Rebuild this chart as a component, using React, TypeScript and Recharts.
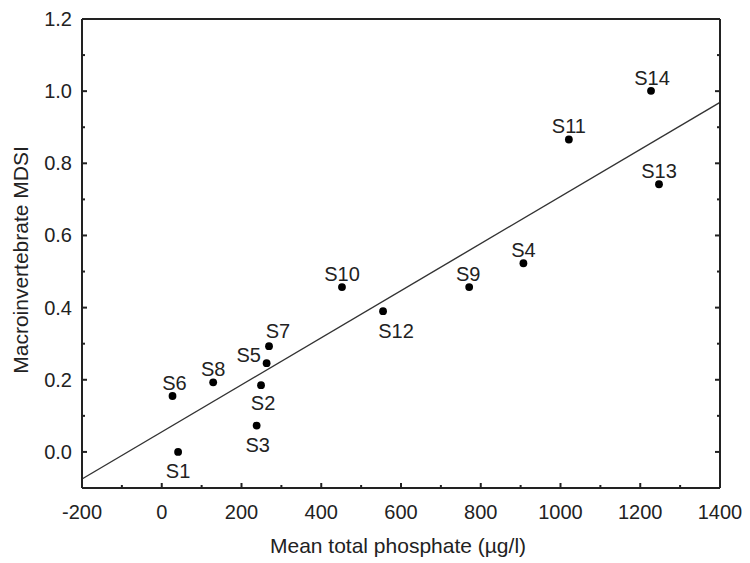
import {
  ScatterChart,
  Scatter,
  XAxis,
  YAxis,
  ReferenceLine,
  Label,
} from "recharts";

// site labels and measured values
const sites = ["S1", "S2", "S3", "S4", "S5", "S6", "S7", "S8", "S9", "S10", "S11", "S12", "S13", "S14"];
const phosphate = [41, 249, 238, 907, 263, 27, 269, 129, 771, 452, 1021, 555, 1247, 1227];
const mdsi = [0.0, 0.185, 0.073, 0.523, 0.246, 0.155, 0.293, 0.193, 0.457, 0.457, 0.866, 0.39, 0.742, 1.001];

// fitted regression line end points
const fitX = [-200, 1400];
const fitY = [-0.075, 0.969];

const xTicks = [-200, -100, 0, 100, 200, 300, 400, 500, 600, 700, 800, 900, 1000, 1100, 1200, 1300, 1400];
const yTicks = [-0.1, 0, 0.1, 0.2, 0.3, 0.4, 0.5, 0.6, 0.7, 0.8, 0.9, 1.0, 1.1, 1.2];

// where each site label sits relative to its dot [dx, dy]
const labelOffsets: Record<string, [number, number]> = {
  S1: [0, 19],
  S2: [2, 18],
  S3: [1, 19],
  S4: [0, -13],
  S5: [-18, -8],
  S6: [2, -13],
  S7: [9, -15],
  S8: [0, -13],
  S9: [-1, -13],
  S10: [0, -13],
  S11: [0, -13],
  S12: [13, 20],
  S13: [0, -13],
  S14: [1, -13],
};

const points = sites.map((name, i) => ({ name, x: phosphate[i], y: mdsi[i] }));

const INK = "#222";
const FONT = "'Liberation Sans', Arial, sans-serif";

const isMajorX = (v: number) => Math.round(v) % 200 === 0;
const isMajorY = (v: number) => Math.round(v * 10) % 2 === 0 && v > -0.05;

// eslint-disable-next-line @typescript-eslint/no-explicit-any
function BottomTick({ x, y, payload }: any) {
  const major = isMajorX(payload.value);
  return (
    <g>
      <line x1={x} x2={x} y1={y} y2={y - (major ? 5 : 3)} stroke={INK} strokeWidth={2} />
      {major && (
        <text x={x} y={y + 24} textAnchor="middle" dominantBaseline="central" fill={INK} fontSize={20}>
          {payload.value}
        </text>
      )}
    </g>
  );
}

// eslint-disable-next-line @typescript-eslint/no-explicit-any
function TopTick({ x, y, payload }: any) {
  const major = isMajorX(payload.value);
  return <line x1={x} x2={x} y1={y} y2={y + (major ? 5 : 3)} stroke={INK} strokeWidth={2} />;
}

// eslint-disable-next-line @typescript-eslint/no-explicit-any
function LeftTick({ x, y, payload }: any) {
  const major = isMajorY(payload.value);
  return (
    <g>
      <line x1={x} x2={x + (major ? 5 : 3)} y1={y} y2={y} stroke={INK} strokeWidth={2} />
      {major && (
        <text x={x - 10} y={y} textAnchor="end" dominantBaseline="central" fill={INK} fontSize={20}>
          {Number(payload.value).toFixed(1)}
        </text>
      )}
    </g>
  );
}

// eslint-disable-next-line @typescript-eslint/no-explicit-any
function RightTick({ x, y, payload }: any) {
  const major = isMajorY(payload.value);
  return <line x1={x} x2={x - (major ? 5 : 3)} y1={y} y2={y} stroke={INK} strokeWidth={2} />;
}

// eslint-disable-next-line @typescript-eslint/no-explicit-any
function SiteDot({ cx, cy, payload }: any) {
  const [dx, dy] = labelOffsets[payload.name] ?? [0, -13];
  return (
    <g>
      <circle cx={cx} cy={cy} r={3.9} fill="#000" />
      <text
        x={cx + dx}
        y={cy + dy}
        textAnchor="middle"
        dominantBaseline="central"
        fill={INK}
        fontSize={20}
      >
        {payload.name}
      </text>
    </g>
  );
}

export default function App() {
  return (
    <div style={{ position: "absolute", left: 0, top: 0, background: "#fff", fontFamily: FONT }}>
      <ScatterChart
        width={750}
        height={563}
        margin={{ top: 18, right: 29, bottom: 0, left: 0 }}
        style={{ fontFamily: FONT }}
      >
        <XAxis
          dataKey="x"
          type="number"
          domain={[-200, 1400]}
          allowDataOverflow
          ticks={xTicks}
          interval={0}
          tickSize={0}
          tickMargin={0}
          tickLine={false}
          tick={<BottomTick />}
          height={75}
          axisLine={{ stroke: INK, strokeWidth: 2 }}
        >
          <Label
            content={() => (
              <text x={398} y={545} textAnchor="middle" dominantBaseline="central" fill={INK} fontSize={21} fontFamily={FONT}>
                Mean total phosphate (µg/l)
              </text>
            )}
          />
        </XAxis>
        <XAxis
          xAxisId="top"
          orientation="top"
          type="number"
          domain={[-200, 1400]}
          allowDataOverflow
          ticks={xTicks}
          interval={0}
          tickSize={0}
          tickMargin={0}
          tickLine={false}
          tick={<TopTick />}
          height={1}
          axisLine={{ stroke: INK, strokeWidth: 2 }}
        />
        <YAxis
          dataKey="y"
          type="number"
          domain={[-0.1, 1.2]}
          allowDataOverflow
          ticks={yTicks}
          interval={0}
          tickSize={0}
          tickMargin={0}
          tickLine={false}
          tick={<LeftTick />}
          width={82}
          axisLine={{ stroke: INK, strokeWidth: 2 }}
        >
          <Label
            content={() => (
              <text
                x={20}
                y={260}
                transform="rotate(-90 20 260)"
                textAnchor="middle"
                dominantBaseline="central"
                fill={INK}
                fontSize={21}
                fontFamily={FONT}
              >
                Macroinvertebrate MDSI
              </text>
            )}
          />
        </YAxis>
        <YAxis
          yAxisId="right"
          orientation="right"
          type="number"
          domain={[-0.1, 1.2]}
          allowDataOverflow
          ticks={yTicks}
          interval={0}
          tickSize={0}
          tickMargin={0}
          tickLine={false}
          tick={<RightTick />}
          width={1}
          axisLine={{ stroke: INK, strokeWidth: 2 }}
        />
        <ReferenceLine
          segment={[
            { x: fitX[0], y: fitY[0] },
            { x: fitX[1], y: fitY[1] },
          ]}
          stroke="#333"
          strokeWidth={1.4}
        />
        <Scatter data={points} shape={<SiteDot />} isAnimationActive={false} />
      </ScatterChart>
    </div>
  );
}
